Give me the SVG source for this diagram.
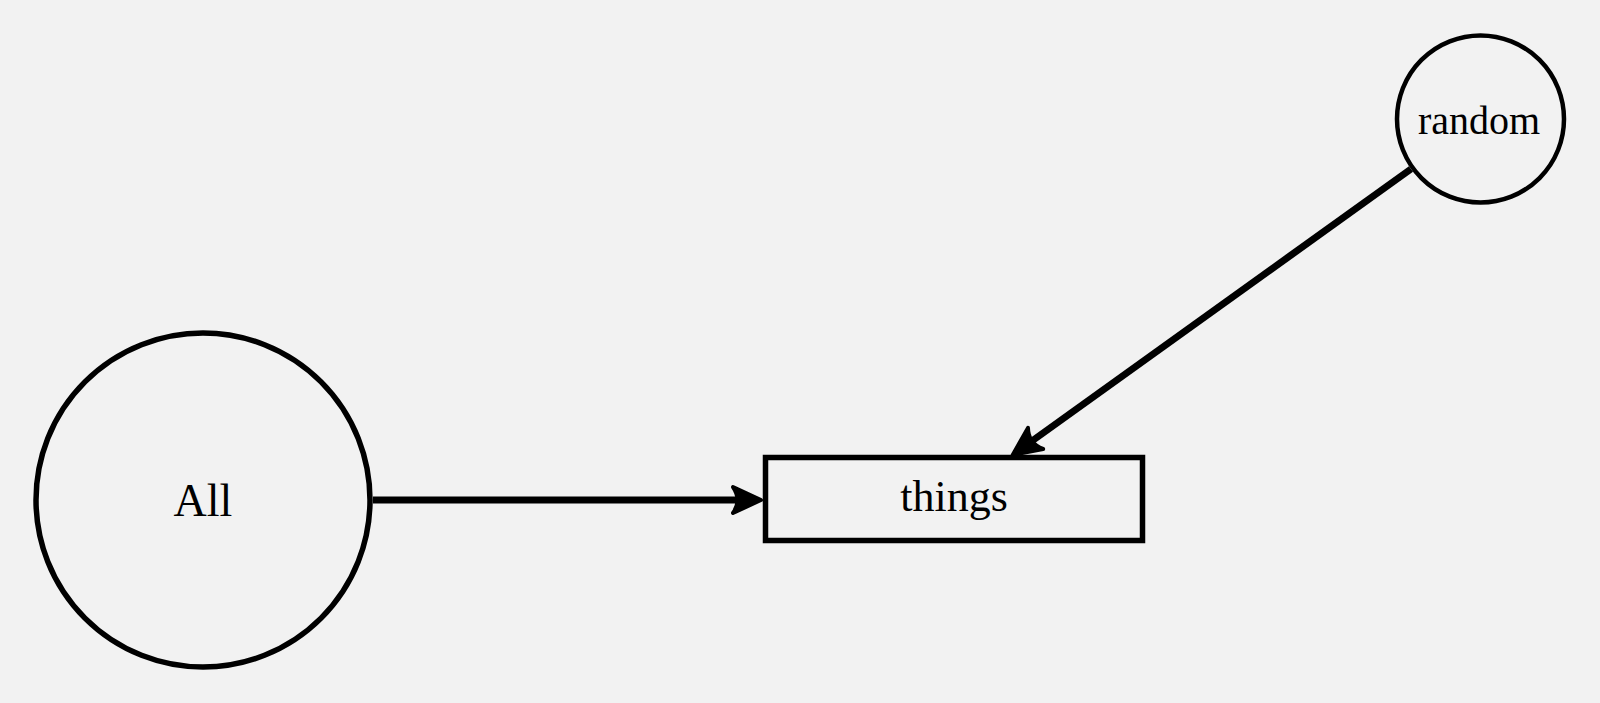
<svg xmlns="http://www.w3.org/2000/svg" width="1600" height="703" viewBox="0 0 1600 703">
<defs>
<style>
.node{fill:none;stroke:#000;}
.lbl{font-family:"Liberation Serif","DejaVu Serif",serif;fill:#000;text-anchor:middle;}
.edge{stroke:#000;stroke-width:7;fill:none;}
</style>
<marker id="arr" markerUnits="userSpaceOnUse" viewBox="-34 -17 38 34" refX="-15" refY="0" markerWidth="38" markerHeight="34" orient="auto">
<path d="M0,0 L-28,-13 Q-19,0 -28,13 Z" fill="#000" stroke="#000" stroke-width="4" stroke-linejoin="round"/>
</marker>
</defs>
<rect width="1600" height="703" fill="#f2f2f2"/>
<g id="connectors">
<line class="edge" x1="373" y1="500" x2="746" y2="500" marker-end="url(#arr)"/>
<line class="edge" x1="1411" y1="169" x2="1025" y2="446" marker-end="url(#arr)"/>
</g>
<g id="node-all">
<circle class="node" cx="203" cy="500" r="167" stroke-width="5.5"/>
<text class="lbl" x="203" y="516" font-size="46">All</text>
</g>
<g id="node-things">
<rect class="node" x="765.5" y="457.5" width="377" height="83" stroke-width="5.5"/>
<text class="lbl" x="954" y="511" font-size="44">things</text>
</g>
<g id="node-random">
<circle class="node" cx="1480.5" cy="119" r="83.5" stroke-width="4.5"/>
<text class="lbl" x="1479" y="134" font-size="40">random</text>
</g>
</svg>
